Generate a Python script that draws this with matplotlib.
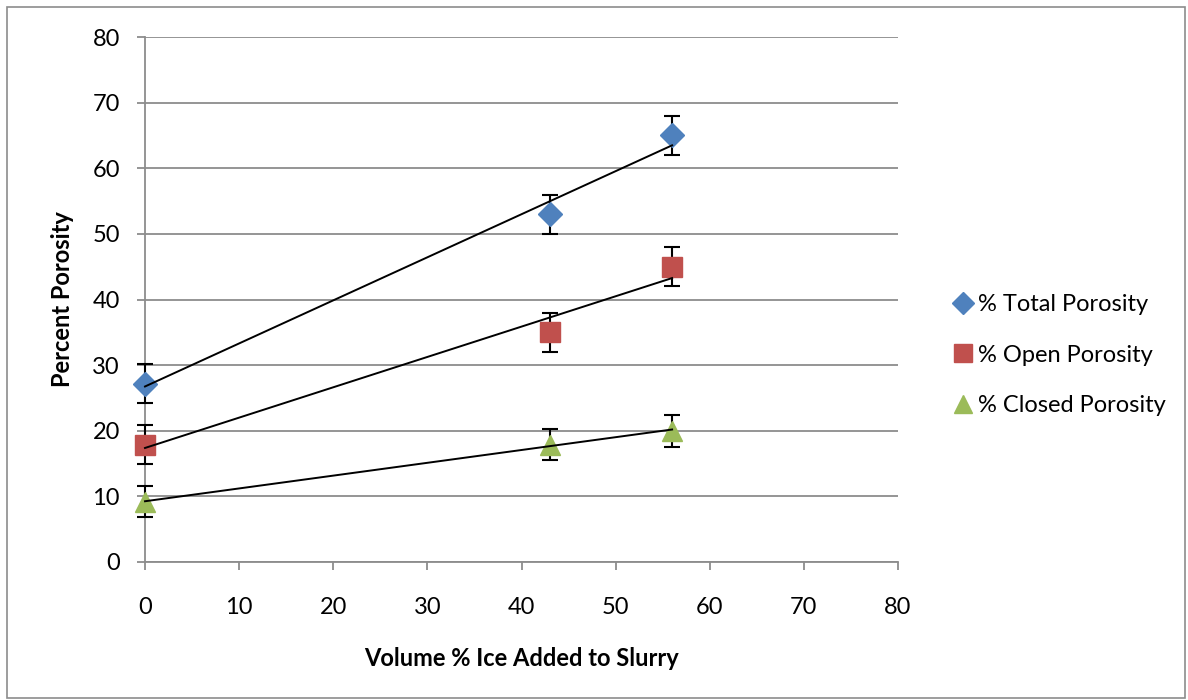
#grafico de porosidad
import numpy as np
import matplotlib.pyplot as plt
from matplotlib.patches import Rectangle

plt.rcParams['font.family'] = ['Lato', 'DejaVu Sans']

# datos
hielo = [0, 43, 56]
total = [27.2, 53.0, 65.0]
abierta = [17.9, 35.0, 45.0]
cerrada = [9.2, 17.9, 20.0]
err_total = [3.0, 3.0, 3.0]
err_abierta = [3.0, 3.0, 3.0]
err_cerrada = [2.4, 2.4, 2.4]

series = [
    ("% Total Porosity", total, err_total, 'D', '#4F81BD', 12),
    ("% Open Porosity", abierta, err_abierta, 's', '#C0504D', 14),
    ("% Closed Porosity", cerrada, err_cerrada, '^', '#9BBB59', 15),
]

fig = plt.figure(figsize=(11.88, 7), dpi=100)
ax = fig.add_axes([145/1188, 1 - 562/700, (898 - 145)/1188, (562 - 37)/700])

# borde exterior
fig.patches.append(Rectangle((7/1188, 2/700), 1178/1188, 691/700, transform=fig.transFigure,
                             fill=False, edgecolor='#8c8c8c', linewidth=1.2))

x = np.array(hielo)
for nombre, y, e, m, c, ms in series:
    ax.errorbar(x, y, yerr=e, fmt='none', ecolor='black', elinewidth=1.5,
                capsize=6, capthick=1.5, zorder=3, clip_on=False)
    ax.plot(x, y, linestyle='none', marker=m, color=c, markersize=ms,
            label=nombre, zorder=4, clip_on=False)
    # linea de tendencia
    p = np.polyfit(x, y, 1)
    ax.plot(x[[0, -1]], np.polyval(p, x[[0, -1]]), color='black', linewidth=1.4,
            zorder=5, clip_on=False)

ax.set_xlim(0, 80)
ax.set_ylim(0, 80)
ax.set_xticks(range(0, 81, 10))
ax.set_yticks(range(0, 81, 10))
ax.grid(axis='y', color='#8c8c8c', linewidth=1.3)
ax.set_axisbelow(True)
for s in ['top', 'right']:
    ax.spines[s].set_visible(False)
for s in ['left', 'bottom']:
    ax.spines[s].set_color('#8c8c8c')
    ax.spines[s].set_linewidth(1.3)
ax.tick_params(direction='out', length=6, width=1.3, color='#8c8c8c', labelsize=17)
ax.tick_params(axis='x', pad=19)
ax.tick_params(axis='y', pad=12)

ax.set_xlabel("Volume % Ice Added to Slurry", fontsize=17, fontweight='bold', labelpad=21)
ax.set_ylabel("Percent Porosity", fontsize=17, fontweight='bold', labelpad=13)

ax.legend(loc='center left', bbox_to_anchor=(1.045, 0.394), frameon=False, fontsize=17,
          handlelength=0.8, handletextpad=0.25, labelspacing=1.25, markerscale=0.9)

fig.savefig("out.png", dpi=100)
